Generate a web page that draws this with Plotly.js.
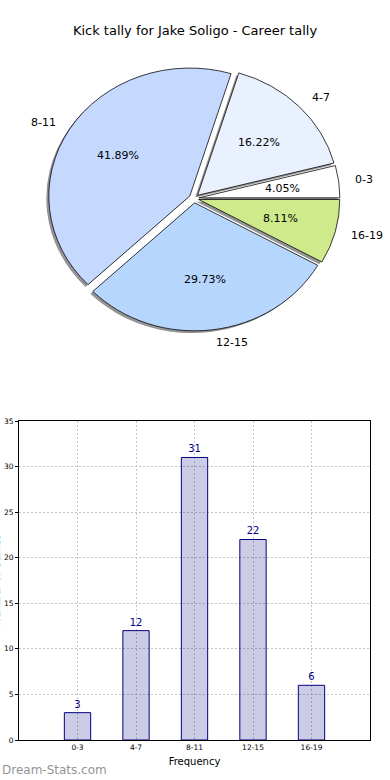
<!DOCTYPE html>
<html>
<head>
<meta charset="utf-8">
<script src="https://cdn.plot.ly/plotly-3.0.1.min.js"></script>
<style>html,body{margin:0;padding:0;background:#fff}#chart{width:390px;height:780px}</style>
</head>
<body>
<div id="chart"></div>
<script>
// Data
const categories = ["0-3", "4-7", "8-11", "12-15", "16-19"];
const counts = [3, 12, 31, 22, 6];
const pieColors = ["#ffffff", "#eaf1fe", "#c5d9ff", "#b6d6fe", "#cfea8b"];
const chartTitle = "Kick tally for Jake Soligo - Career tally";
const xTitle = "Frequency";
const yTitle = "Number of Games";
const watermark = "Dream-Stats.com";

const W = 390, H = 780;
const FONT = "DejaVu Sans";
const px = v => v / W, py = v => 1 - v / H;

// pie geometry (matplotlib-like elliptical pie)
const pull = 0.035;
const cx = 194, cy = 198.4, rx = 141, ry = 128;
const half = rx * (1 + pull);
const pieDom = {x: [px(cx - half), px(cx + half)], y: [py(cy + half), py(cy - half)]};
const sh = 2.5;
const shadowDom = {x: [px(cx - half - sh), px(cx + half - sh)], y: [py(cy + half + sh), py(cy - half + sh)]};
const total = counts.reduce((a, b) => a + b, 0);
const rot = 90 - 360 * counts[0] / total;

const common = {
  type: "pie", labels: categories, values: counts, sort: false,
  direction: "counterclockwise", rotation: rot, pull: pull,
  hoverinfo: "skip", showlegend: false, textinfo: "none"
};
const shadow = Object.assign({}, common, {
  domain: shadowDom,
  marker: {colors: categories.map(() => "rgba(0,0,0,0.42)"), line: {width: 0}}
});
const pie = Object.assign({}, common, {
  domain: pieDom,
  marker: {colors: pieColors, line: {color: "#000", width: 0.8}}
});

const bars = {
  type: "bar", x: categories, y: counts, width: 0.45,
  marker: {color: "rgba(0,0,128,0.2)", line: {color: "#000080", width: 1}},
  texttemplate: "%{y}", textposition: "outside", cliponaxis: false,
  textfont: {family: FONT, size: 10, color: "#00008b"},
  hoverinfo: "skip", xaxis: "x", yaxis: "y", showlegend: false
};

// pie text annotations (percent inside at 0.6r, label outside at 1.1r)
const annots = [];
let cum = 0;
counts.forEach((v, i) => {
  const a0 = cum / total * 2 * Math.PI;
  cum += v;
  const a1 = cum / total * 2 * Math.PI;
  const m = (a0 + a1) / 2, c = Math.cos(m), s = Math.sin(m);
  const pxp = cx + (0.6 + pull) * rx * c, pyp = cy - (0.6 + pull) * ry * s;
  annots.push({text: (100 * v / total).toFixed(2) + "%", xref: "paper", yref: "paper",
    x: px(pxp), y: py(pyp), xanchor: "center", yanchor: "middle", showarrow: false,
    font: {family: FONT, size: 11, color: "#000"}});
  const lx = cx + (1.1 + pull) * rx * c, ly = cy - (1.1 + pull) * ry * s;
  annots.push({text: categories[i], xref: "paper", yref: "paper",
    x: px(lx), y: py(ly), xanchor: c >= 0 ? "left" : "right", yanchor: "middle", showarrow: false,
    font: {family: FONT, size: 11, color: "#000"}});
});
annots.push({text: yTitle, textangle: -90, xref: "paper", yref: "paper", x: px(3), y: py(580),
  xanchor: "right", yanchor: "middle", showarrow: false,
  font: {family: FONT, size: 10, color: "#000"}});
annots.push({text: watermark, xref: "paper", yref: "paper", x: 0, y: py(769.5),
  xanchor: "left", yanchor: "middle", showarrow: false,
  font: {family: FONT, size: 12, color: "#959595"}});

const gridStyle = {showgrid: true, gridcolor: "#c4c4c4", griddash: "2px,2px", gridwidth: 1};

const layout = {
  width: W, height: H, margin: {l: 0, r: 0, t: 0, b: 0},
  paper_bgcolor: "#fff", plot_bgcolor: "#fff",
  font: {family: FONT, color: "#000"},
  title: {text: chartTitle, font: {family: FONT, size: 13, color: "#000"},
          x: 0.5, xanchor: "center", y: py(30), yanchor: "middle", yref: "container"},
  xaxis: Object.assign({
    domain: [px(19), px(370)], type: "category", range: [-1, 5],
    showline: true, mirror: true, linecolor: "#000", linewidth: 1,
    ticks: "", tickfont: {family: FONT, size: 7.5, color: "#000"},
    title: {text: xTitle, font: {family: FONT, size: 10, color: "#000"}, standoff: 6},
    zeroline: false, fixedrange: true, automargin: false
  }, gridStyle),
  yaxis: Object.assign({
    domain: [py(740), py(421)], range: [0, 35], dtick: 5,
    showline: true, mirror: true, linecolor: "#000", linewidth: 1,
    ticks: "outside", ticklen: 3, tickcolor: "#000",
    tickfont: {family: FONT, size: 7.5, color: "#000"},
    zeroline: false, fixedrange: true, automargin: false
  }, gridStyle),
  annotations: annots
};

Plotly.newPlot("chart", [shadow, pie, bars], layout, {displayModeBar: false, staticPlot: true}).then(() => {
  // squash the pie vertically about its centre to get matplotlib's elliptical pie
  const k = ry / rx;
  document.querySelectorAll(".pielayer").forEach(g => {
    const prev = g.getAttribute("transform") || "";
    g.setAttribute("transform", `translate(0,${cy * (1 - k)}) scale(1,${k}) ${prev}`);
  });
});
</script>
</body>
</html>
